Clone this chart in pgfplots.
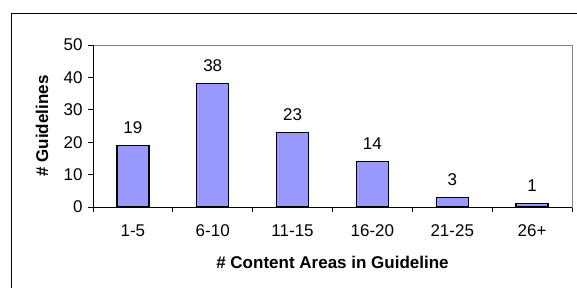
\documentclass[border=0pt]{standalone}
\usepackage{pgfplots}
\pgfplotsset{compat=1.18}
\usepackage{fontspec}
\setmainfont{Liberation Sans}
\definecolor{barfill}{HTML}{9999FF}
\begin{document}
\begin{tikzpicture}
\useasboundingbox (0pt,0pt) rectangle (577pt,287pt);
\draw[line width=1pt] (11pt,-1pt) -- (11pt,273pt) -- (578pt,273pt);
\begin{axis}[
  at={(93pt,80pt)}, anchor=south west,
  scale only axis, width=479pt, height=162pt,
  xmin=-0.5, xmax=5.5, ymin=0, ymax=50,
  ytick={0,10,20,30,40,50},
  xtick={0,1,2,3,4,5},
  xticklabels={1-5,6-10,11-15,16-20,21-25,26+},
  minor xtick={-0.5,0.5,1.5,2.5,3.5,4.5,5.5},
  major x tick style={draw=none},
  minor tick length=5pt,
  major tick length=5pt,
  tick align=outside,
  tick style={black, line width=0.8pt},
  xtick pos=bottom, ytick pos=left,
  axis line style={draw=gray, line width=0.8pt},
  /pgf/number format/assume math mode=true,
  tick label style={font=\fontsize{17}{19}\selectfont},
  xticklabel style={yshift=-9pt},
  yticklabel style={xshift=-2pt},
  xlabel={\bfseries \# Content Areas in Guideline},
  ylabel={\bfseries \# Guidelines},
  label style={font=\fontsize{17}{19}\selectfont},
  xlabel style={at={(axis description cs:0.5,0)}, anchor=center, yshift=-55pt},
  ylabel style={at={(axis description cs:0,0.5)}, anchor=center, yshift=51pt},
  ybar, bar width=32pt,
  nodes near coords,
  nodes near coords style={font=\fontsize{17}{19}\selectfont, yshift=8pt},
  clip=false,
]
\addplot[fill=barfill, draw=black, line width=1.2pt] coordinates {(0,19) (1,38) (2,23) (3,14) (4,3) (5,1)};
\draw[black, line width=0.8pt] (rel axis cs:0,1) -- (rel axis cs:0,0) -- (rel axis cs:1,0);
\end{axis}
\end{tikzpicture}
\end{document}
